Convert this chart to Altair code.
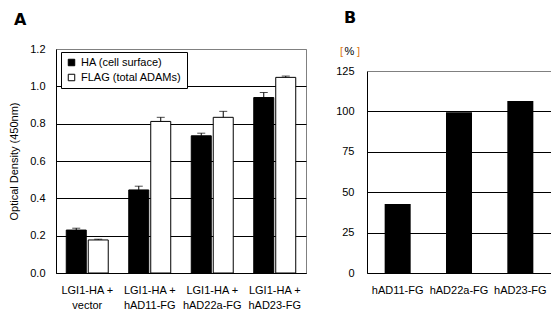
import altair as alt
import pandas as pd

# ---------------- data ----------------
groups = ["LGI1-HA +\nvector", "LGI1-HA +\nhAD11-FG", "LGI1-HA +\nhAD22a-FG", "LGI1-HA +\nhAD23-FG"]
series = ["HA (cell surface)", "FLAG (total ADAMs)"]
ha_values = [0.230, 0.445, 0.735, 0.940]
ha_errors = [0.010, 0.020, 0.014, 0.027]
flag_values = [0.177, 0.812, 0.834, 1.048]
flag_errors = [0.004, 0.022, 0.032, 0.007]
a_ticks = [0.0, 0.2, 0.4, 0.6, 0.8, 1.0, 1.2]

b_categories = ["hAD11-FG", "hAD22a-FG", "hAD23-FG"]
b_values = [42.7, 99.4, 106.4]
b_ticks = [0, 25, 50, 75, 100, 125]

rows = []
for g, v, e in zip(groups, ha_values, ha_errors):
    rows.append({"group": g, "series": series[0], "value": v, "upper": v + e})
for g, v, e in zip(groups, flag_values, flag_errors):
    rows.append({"group": g, "series": series[1], "value": v, "upper": v + e})
df_a = pd.DataFrame(rows)
df_b = pd.DataFrame({"cat": b_categories, "value": b_values})

FONT = "Liberation Sans"
TFONT = "DejaVu Sans"
YTITLE = "Optical Density (450nm)"
GRAY = "#808080"
ORANGE = "#DD7711"

# ---------------- panel A ----------------
x_a = alt.X(
    "group:N", sort=groups,
    scale=alt.Scale(paddingInner=0, paddingOuter=0),
    axis=alt.Axis(title=None, labelAngle=0, labelExpr="split(datum.label, '\\n')",
                  labelLineHeight=15, ticks=False, labelPadding=11,
                  domainColor="black", grid=False),
)
xo_a = alt.XOffset("series:N", sort=series,
                   scale=alt.Scale(paddingInner=0.0909, paddingOuter=0.466))
y_scale_a = alt.Scale(domain=[0, 1.2], nice=False)
y_axis_a = alt.Axis(
    values=a_ticks, format=".1f", title=YTITLE, ticks=False, labelPadding=11,
    labelOverlap=False, titlePadding=10, domainColor="black",
    gridColor=alt.condition("datum.value >= 1.19", alt.value(GRAY), alt.value("black")),
)

bars_a = alt.Chart(df_a).mark_bar(stroke="black", strokeWidth=1).encode(
    x=x_a, xOffset=xo_a,
    y=alt.Y("value:Q", scale=y_scale_a, axis=y_axis_a),
    color=alt.Color(
        "series:N", sort=series,
        scale=alt.Scale(domain=series, range=["black", "white"]),
        legend=alt.Legend(
            title=None, orient="none", legendX=5, legendY=3,
            symbolType="square", symbolSize=42, symbolStrokeColor="black",
            symbolStrokeWidth=1, labelFont=FONT, labelFontSize=11,
            labelColor="black", strokeColor="black", fillColor="white",
            padding=5, rowPadding=3, labelOffset=4, cornerRadius=0,
        ),
    ),
)
err_rule = alt.Chart(df_a).mark_rule(color="black", strokeWidth=1).encode(
    x=x_a, xOffset=xo_a,
    y=alt.Y("value:Q", scale=y_scale_a, axis=y_axis_a), y2="upper:Q",
)
err_cap = alt.Chart(df_a).mark_tick(color="black", thickness=1, size=8).encode(
    x=x_a, xOffset=xo_a,
    y=alt.Y("upper:Q", scale=y_scale_a, axis=y_axis_a),
)

panel_a = alt.layer(bars_a, err_rule, err_cap).properties(
    width=250, height=224,
    title=alt.TitleParams("A", anchor="start", frame="group", dx=-42, offset=15,
                          fontSize=16, fontWeight="bold", font=TFONT, color="black"),
)

# ---------------- panel B ----------------
x_b = alt.X(
    "cat:N", sort=b_categories,
    scale=alt.Scale(paddingInner=0.576, paddingOuter=0.288),
    axis=alt.Axis(title="%", titleX=-18, titleY=-222, titleAlign="center",
                  titleBaseline="middle", titleFont=FONT, titleFontSize=11,
                  titleFontWeight="normal", titleColor="black",
                  labelAngle=0, ticks=False, labelPadding=11,
                  domainColor="black", grid=False),
)
y_scale_b = alt.Scale(domain=[0, 125], nice=False, range=[224, 22])
bars_b = alt.Chart(df_b).mark_bar(color="black").encode(
    x=x_b,
    y=alt.Y("value:Q", scale=y_scale_b,
            axis=alt.Axis(values=b_ticks, title="[", titleAngle=0,
                          titleX=-26, titleY=2,
                          titleAlign="center", titleBaseline="middle", titleColor=ORANGE,
                          titleFont=FONT, titleFontSize=11, titleFontWeight="normal",
                          ticks=False, labelPadding=13, labelOverlap=False, domainColor="black",
                          gridColor=alt.condition("datum.value >= 124", alt.value(GRAY), alt.value("black")))),
)
border_b = alt.Chart(df_b).mark_bar(opacity=0).encode(
    x=x_b,
    y=alt.Y("value:Q", scale=y_scale_b,
            axis=alt.Axis(orient="right", labels=False, ticks=False, grid=False,
                          domainColor=GRAY, title="]", titleAngle=0,
                          titleX=-193, titleY=2, titleAlign="center", titleBaseline="middle",
                          titleColor=ORANGE, titleFont=FONT, titleFontSize=11,
                          titleFontWeight="normal")),
)
panel_b = alt.layer(bars_b, border_b).resolve_axis(y="independent").properties(
    width=184, height=224,
    view=alt.ViewBackground(stroke=None),
    title=alt.TitleParams("B", anchor="start", frame="group", dx=-23, offset=19,
                          fontSize=16, fontWeight="bold", font=TFONT, color="black"),
)

chart = alt.hconcat(panel_a, panel_b, spacing=28).properties(
    padding={"left": 0, "top": 2, "right": 0, "bottom": 0},
).configure_view(
    stroke=GRAY, strokeWidth=1,
).configure_axis(
    labelFont=FONT, labelFontSize=11, labelColor="black",
    titleFont=FONT, titleFontSize=11, titleColor="black", titleFontWeight="normal",
    gridWidth=1, domainWidth=1,
)

chart.save("out.html", embed_options={"renderer": "svg", "actions": False})
